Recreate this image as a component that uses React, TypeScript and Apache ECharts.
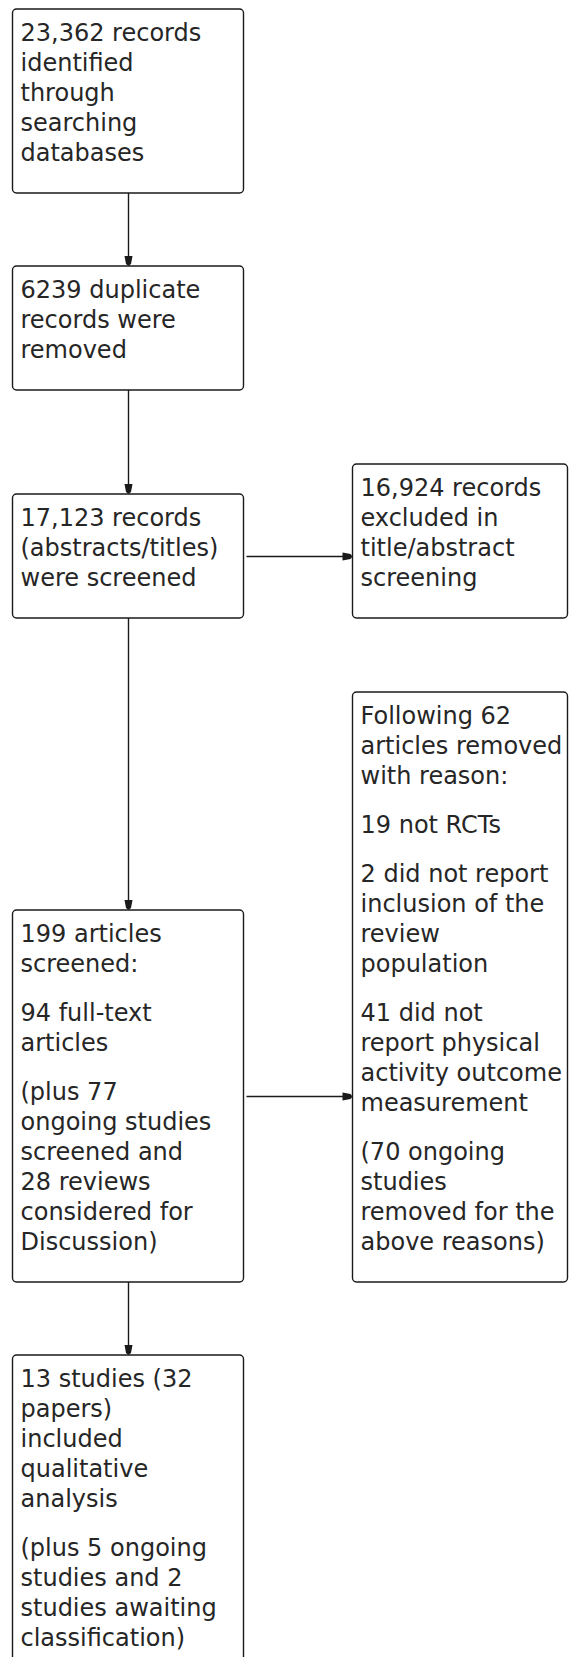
import React, { useEffect, useRef } from "react";
import * as echarts from "echarts";

// ---- Content (paragraphs of lines) ----
const identifiedText: string[][] = [["23,362 records", "identified", "through", "searching", "databases"]];
const duplicatesText: string[][] = [["6239 duplicate", "records were", "removed"]];
const screenedText: string[][] = [["17,123 records", "(abstracts/titles)", "were screened"]];
const excludedText: string[][] = [["16,924 records", "excluded in", "title/abstract", "screening"]];
const removedText: string[][] = [
  ["Following 62", "articles removed", "with reason:"],
  ["19 not RCTs"],
  ["2 did not report", "inclusion of the", "review", "population"],
  ["41 did not", "report physical", "activity outcome", "measurement"],
  ["(70 ongoing", "studies", "removed for the", "above reasons)"],
];
const fullTextText: string[][] = [
  ["199 articles", "screened:"],
  ["94 full-text", "articles"],
  ["(plus 77", "ongoing studies", "screened and", "28 reviews", "considered for", "Discussion)"],
];
const includedText: string[][] = [
  ["13 studies (32", "papers)", "included", "qualitative", "analysis"],
  ["(plus 5 ongoing", "studies and 2", "studies awaiting", "classification)"],
];

// ---- Layout constants ----
const W = 569;
const H = 1657;
const LEFT_X = 12.5;
const LEFT_R = 243.5;
const RIGHT_X = 352.5;
const RIGHT_R = 567.5;
const LINE = 30;
const PARA_GAP = 19;
const PAD = 32; // box edge to first/last baseline
const FONT = 24;
const BASE_OFF = 23.3; // line-box top to baseline
const STROKE = "#1a1a1a";
const TEXT_COLOR = "#262626";

function boxHeight(paras: string[][]) {
  const n = paras.reduce((s, p) => s + p.length, 0);
  return 2 * PAD + (n - 1) * LINE + (paras.length - 1) * PARA_GAP;
}

function boxElements(paras: string[][], x0: number, x1: number, top: number) {
  const h = boxHeight(paras);
  const els: any[] = [
    {
      type: "rect",
      shape: { x: x0, y: top, width: x1 - x0, height: h, r: 4 },
      style: { fill: "#fff", stroke: STROKE, lineWidth: 1.4 },
    },
  ];
  let baseline = top + PAD;
  paras.forEach((p) => {
    els.push({
      type: "text",
      x: x0 + 8,
      y: baseline - BASE_OFF,
      style: {
        text: p.join("\n"),
        font: `${FONT}px "DejaVu Sans", sans-serif`,
        fontSize: FONT,
        fontFamily: '"DejaVu Sans", sans-serif',
        lineHeight: LINE,
        fill: TEXT_COLOR,
        verticalAlign: "top",
        align: "left",
      },
    });
    baseline += p.length * LINE + PARA_GAP;
  });
  return { els, h, bottom: top + h };
}

function vArrow(x: number, y0: number, y1: number) {
  return [
    { type: "line", shape: { x1: x, y1: y0, x2: x, y2: y1 - 6 }, style: { stroke: STROKE, lineWidth: 1.4 } },
    {
      type: "polygon",
      shape: { points: [[x - 4, y1 - 10], [x + 4, y1 - 10], [x + 2.5, y1 - 2], [x, y1], [x - 2.5, y1 - 2]] },
      style: { fill: STROKE },
    },
  ];
}

function hArrow(y: number, x0: number, x1: number) {
  return [
    { type: "line", shape: { x1: x0, y1: y, x2: x1 - 6, y2: y }, style: { stroke: STROKE, lineWidth: 1.4 } },
    {
      type: "polygon",
      shape: { points: [[x1 - 10, y - 4], [x1 - 10, y + 4], [x1 - 2, y + 2.5], [x1, y], [x1 - 2, y - 2.5]] },
      style: { fill: STROKE },
    },
  ];
}

export default function App() {
  const ref = useRef<HTMLDivElement>(null);
  useEffect(() => {
    document.body.style.margin = "0";
    if (!ref.current) return;
    const chart = echarts.init(ref.current, undefined, { renderer: "svg" });

    const ARROW_GAP = 73;
    const b1 = boxElements(identifiedText, LEFT_X, LEFT_R, 9);
    const b2 = boxElements(duplicatesText, LEFT_X, LEFT_R, b1.bottom + ARROW_GAP);
    const b3 = boxElements(screenedText, LEFT_X, LEFT_R, 494);
    const exH = boxHeight(excludedText);
    const ex1 = boxElements(excludedText, RIGHT_X, RIGHT_R, b3.bottom - exH);
    const ex2 = boxElements(removedText, RIGHT_X, RIGHT_R, 692);
    const b4 = boxElements(fullTextText, LEFT_X, LEFT_R, ex2.bottom - boxHeight(fullTextText));
    const b5 = boxElements(includedText, LEFT_X, LEFT_R, b4.bottom + ARROW_GAP);

    const cx = 128.5;
    const b2top = b1.bottom + ARROW_GAP;
    const b4top = b4.bottom - b4.h;
    const elements: any[] = [
      ...b1.els,
      ...b2.els,
      ...b3.els,
      ...ex1.els,
      ...ex2.els,
      ...b4.els,
      ...b5.els,
      ...vArrow(cx, b1.bottom, b2top),
      ...vArrow(cx, b2.bottom, 494),
      ...vArrow(cx, b3.bottom, b4top),
      ...vArrow(cx, b4.bottom, b4.bottom + ARROW_GAP),
      ...hArrow(Math.round((494 + b3.bottom) / 2) + 0.5, LEFT_R + 3, RIGHT_X),
      ...hArrow(Math.round((b4top + b4.bottom) / 2) + 0.5, LEFT_R + 3, RIGHT_X),
    ];

    chart.setOption({
      animation: false,
      backgroundColor: "#fff",
      graphic: { elements },
    });
    return () => chart.dispose();
  }, []);
  return <div ref={ref} style={{ width: W, height: H }} />;
}
